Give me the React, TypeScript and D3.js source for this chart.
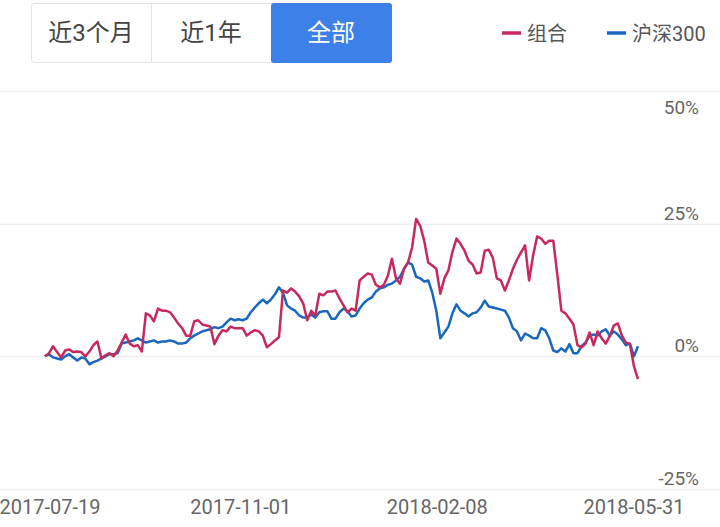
import React, { useLayoutEffect, useRef } from 'react';
import * as d3 from 'd3';

// 组合 vs 沪深300 cumulative return (%), one value per trading-day sample
const portfolio = [
  0.0, 0.6, 1.9, 0.8, -0.2, 1.1, 1.3, 0.8, 0.9, 0.8,
  0.0, 0.9, 2.1, 2.8, -0.4, 0.2, 0.6, 0.0, 1.1, 2.6,
  4.1, 2.4, 1.9, 2.1, 0.9, 8.1, 7.7, 6.6, 9.0, 8.6,
  8.6, 8.3, 7.3, 6.2, 5.3, 3.9, 3.9, 6.6, 6.8, 6.0,
  5.8, 5.6, 2.3, 3.9, 4.9, 4.7, 5.6, 5.3, 5.3, 5.3,
  3.9, 4.5, 4.9, 4.7, 3.9, 1.7, 2.3, 3.0, 3.6, 12.4,
  12.0, 12.8, 12.2, 11.3, 10.0, 6.8, 8.6, 7.7, 11.8, 11.5,
  12.2, 12.2, 12.4, 10.9, 9.6, 8.3, 9.0, 8.6, 14.3, 15.0,
  15.6, 15.4, 13.5, 13.0, 13.5, 15.2, 18.4, 14.7, 13.7, 16.5,
  17.7, 20.5, 25.9, 24.6, 21.8, 17.7, 17.1, 16.5, 11.8, 14.7,
  16.2, 19.7, 22.2, 21.2, 19.9, 18.0, 17.3, 15.6, 15.8, 19.9,
  20.1, 18.6, 14.7, 14.3, 12.4, 14.3, 16.5, 18.2, 19.6, 20.9,
  14.3, 19.0, 22.6, 22.2, 21.2, 21.8, 21.8, 15.4, 8.6, 8.1,
  7.1, 6.0, 2.1, 1.7, 2.4, 4.5, 2.1, 4.7, 3.4, 2.4,
  3.8, 5.8, 6.2, 3.9, 2.6, 2.3, -1.9, -4.3,
];

const hs300 = [
  0.0, 0.4, -0.2, -0.4, -0.6, 0.0, 0.4, -0.2, -0.8, -0.2,
  -0.4, -1.5, -1.1, -0.8, -0.4, 0.0, 0.4, 0.4, 0.6, 2.4,
  2.6, 2.8, 3.0, 3.4, 3.0, 2.6, 2.8, 3.0, 2.6, 2.8,
  2.8, 3.0, 2.8, 2.4, 2.4, 2.6, 3.4, 3.9, 4.3, 4.7,
  4.9, 5.1, 5.5, 5.3, 5.6, 6.4, 7.1, 6.8, 7.0, 6.8,
  7.1, 8.3, 9.2, 10.0, 10.7, 10.0, 10.7, 11.7, 13.0, 12.0,
  9.6, 9.0, 8.6, 7.7, 7.3, 7.3, 7.9, 7.3, 8.3, 8.5,
  8.5, 7.1, 7.1, 8.3, 9.0, 8.5, 7.5, 7.7, 9.0, 10.0,
  10.7, 11.1, 12.2, 12.8, 13.0, 13.5, 13.7, 14.3, 15.0, 16.5,
  17.7, 17.3, 15.0, 14.7, 14.1, 14.3, 12.0, 8.6, 3.4, 4.5,
  5.6, 8.1, 9.8, 8.6, 8.1, 7.5, 8.1, 8.3, 9.2, 10.5,
  9.4, 9.2, 9.0, 8.8, 8.6, 7.3, 5.3, 4.7, 3.0, 4.3,
  3.9, 3.4, 3.4, 5.3, 4.9, 3.4, 1.1, 0.8, 1.5, 0.9,
  2.3, 0.6, 0.6, 1.9, 2.6, 3.9, 4.1, 3.9, 4.7, 5.1,
  3.9, 4.7, 4.1, 3.2, 2.1, 2.4, 0.0, 1.9,
];

const xTickLabels = ['2017-07-19', '2017-11-01', '2018-02-08', '2018-05-31'];
const yTicks = [50, 25, 0, -25];
const ranges = ['近3个月', '近1年', '全部'];
const legendItems = [
  { name: '组合', color: '#c62a5c' },
  { name: '沪深300', color: '#1a68bd' },
];

const width = 720;
const height = 527;
const font = 'Roboto, "Noto Sans CJK SC", sans-serif';

const drawChart = (container: SVGSVGElement) => {
  const svg = d3.select(container);
  svg.selectAll('*').remove();

  // range buttons
  const btnGroup = svg.append('g').attr('transform', 'translate(31,3)');
  const btnW = 120;
  const btnH = 59;
  btnGroup
    .append('rect')
    .attr('x', 0.5)
    .attr('y', 0.5)
    .attr('width', btnW * 3)
    .attr('height', btnH)
    .attr('rx', 3)
    .attr('fill', '#fff')
    .attr('stroke', '#e2e2e2');
  ranges.forEach((label, i) => {
    const active = i === ranges.length - 1;
    if (active) {
      btnGroup
        .append('rect')
        .attr('x', i * btnW)
        .attr('y', 0)
        .attr('width', btnW + 1)
        .attr('height', btnH + 1)
        .attr('rx', 3)
        .attr('fill', '#3d80e8');
    } else if (i > 0) {
      btnGroup
        .append('line')
        .attr('x1', i * btnW + 0.5)
        .attr('x2', i * btnW + 0.5)
        .attr('y1', 0)
        .attr('y2', btnH)
        .attr('stroke', '#e2e2e2');
    }
    btnGroup
      .append('text')
      .attr('x', i * btnW + btnW / 2)
      .attr('y', btnH / 2 + 8)
      .attr('text-anchor', 'middle')
      .attr('font-size', 24)
      .attr('font-family', font)
      .attr('fill', active ? '#fff' : '#444')
      .text(label);
  });

  // legend
  const legendX = [502, 607];
  legendItems.forEach((item, i) => {
    const g = svg.append('g').attr('transform', `translate(${legendX[i]},33)`);
    g.append('line')
      .attr('x1', 0)
      .attr('x2', 19)
      .attr('y1', 0)
      .attr('y2', 0)
      .attr('stroke', item.color)
      .attr('stroke-width', 3.5);
    g.append('text')
      .attr('x', 25)
      .attr('y', 8)
      .attr('font-size', 20)
      .attr('font-family', font)
      .attr('fill', '#555')
      .text(item.name);
  });

  // plot area
  const xScale = d3
    .scaleLinear()
    .domain([0, portfolio.length - 1])
    .range([45, 638]);
  const yScale = d3.scaleLinear().domain([-25, 50]).range([489, 91]);

  const grid = svg.append('g');
  yTicks.forEach((t) => {
    const y = Math.round(yScale(t)) + 0.5;
    grid
      .append('line')
      .attr('x1', 0)
      .attr('x2', width)
      .attr('y1', y)
      .attr('y2', y)
      .attr('stroke', '#eeeeee')
      .attr('stroke-width', 1.5);
    grid
      .append('text')
      .attr('x', 699)
      .attr('y', t === 50 ? y + 22 : y - 5)
      .attr('text-anchor', 'end')
      .attr('font-size', 19)
      .attr('font-family', font)
      .attr('fill', '#666')
      .text(`${t}%`);
  });

  const step = (portfolio.length - 1) / (xTickLabels.length - 1);
  const labelNudge = [5, -2, -3, -4];
  xTickLabels.forEach((label, i) => {
    grid
      .append('text')
      .attr('x', xScale(Math.round(i * step)) + labelNudge[i])
      .attr('y', 514)
      .attr('text-anchor', 'middle')
      .attr('font-size', 20)
      .attr('font-family', font)
      .attr('fill', '#666')
      .text(label);
  });

  const line = d3
    .line<number>()
    .x((_, i) => xScale(i))
    .y((d) => yScale(d));

  // 沪深300 first so 组合 sits on top like the original
  [hs300, portfolio].forEach((series, i) => {
    svg
      .append('path')
      .datum(series)
      .attr('d', line)
      .attr('fill', 'none')
      .attr('stroke', legendItems[1 - i].color)
      .attr('stroke-width', 2.5)
      .attr('stroke-linejoin', 'round');
  });
};

export default function App() {
  const rootEl = useRef<SVGSVGElement>(null);

  useLayoutEffect(() => {
    if (rootEl.current) drawChart(rootEl.current);
  }, []);

  return (
    <svg
      ref={rootEl}
      width={width}
      height={height}
      style={{ position: 'absolute', left: 0, top: 0, background: '#fff' }}
    />
  );
}
